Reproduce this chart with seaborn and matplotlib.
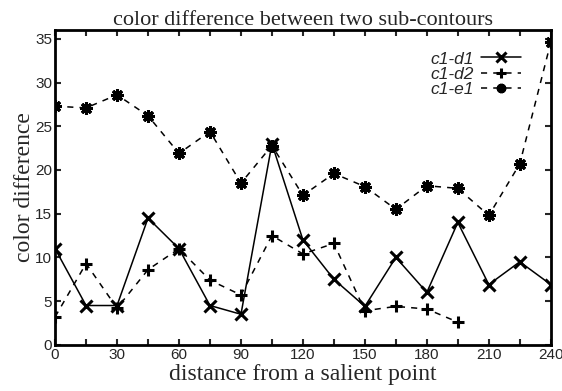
import matplotlib
matplotlib.use("Agg")
import matplotlib.pyplot as plt
import seaborn as sns
import pandas as pd

# distance from a salient point (degrees)
distance = [0, 15, 30, 45, 60, 75, 90, 105, 120, 135, 150, 165, 180, 195, 210, 225, 240]

c1_d1 = [11.0, 4.5, 4.5, 14.5, 11.0, 4.5, 3.5, 23.0, 12.0, 7.5, 4.4, 10.0, 6.0, 14.0, 6.9, 9.5, 6.9]
c1_d2 = [3.2, 9.3, 4.2, 8.6, 11.0, 7.4, 5.7, 12.5, 10.4, 11.6, 3.9, 4.4, 4.1, 2.6]
c1_e1 = [27.3, 27.1, 28.6, 26.2, 21.9, 24.4, 18.5, 22.8, 17.1, 19.6, 18.1, 15.5, 18.2, 17.9, 14.8, 20.7, 34.6]

series = [
    ("c1-d1", c1_d1, "x", "-"),
    ("c1-d2", c1_d2, "+", "--"),
    ("c1-e1", c1_e1, (8, 2, 0), "--"),
]

sns.set_style("ticks")
plt.rcParams["font.family"] = ["Liberation Sans", "DejaVu Sans"]

fig = plt.figure(figsize=(5.62, 3.91), dpi=100)
ax = fig.add_axes([0.098, 0.118, 0.882, 0.805])

for name, vals, mk, ls in series:
    df = pd.DataFrame({"distance": distance[:len(vals)], "value": vals})
    sns.lineplot(data=df, x="distance", y="value", ax=ax, color="black",
                 linewidth=1.1, marker=mk, markersize=9,
                 markeredgewidth=2.2, markeredgecolor="black", label=name)
    if ls == "--":
        ax.lines[-1].set_dashes([4, 4])

ax.set_xlim(0, 240)
ax.set_ylim(0, 36)
ax.set_xticks(range(0, 241, 30))
ax.set_xticks(range(0, 241, 15), minor=True)
ax.set_yticks(range(0, 36, 5))
ax.tick_params(axis="both", which="both", direction="in", top=True, right=True,
               labelsize=11, width=1.5)
ax.tick_params(axis="both", which="major", length=4, pad=2)
ax.tick_params(axis="x", which="minor", length=4)
for sp in ax.spines.values():
    sp.set_linewidth(2)
    sp.set_color("black")

ax.set_title("color difference between two sub-contours", family="Liberation Serif",
             fontsize=16, pad=2)
ax.set_xlabel("distance from a salient point", family="Liberation Serif", fontsize=17, labelpad=2)
ax.set_ylabel("color difference", family="Liberation Serif", fontsize=17, labelpad=0)

ax.legend(loc="upper right", bbox_to_anchor=(0.957, 0.96), frameon=False,
          markerfirst=False, handlelength=2.3, handletextpad=0.4,
          labelspacing=0.0, borderpad=0, markerscale=0.75,
          prop={"style": "italic", "size": 12.5, "family": "Liberation Sans"})

fig.savefig("out.png", dpi=100)
